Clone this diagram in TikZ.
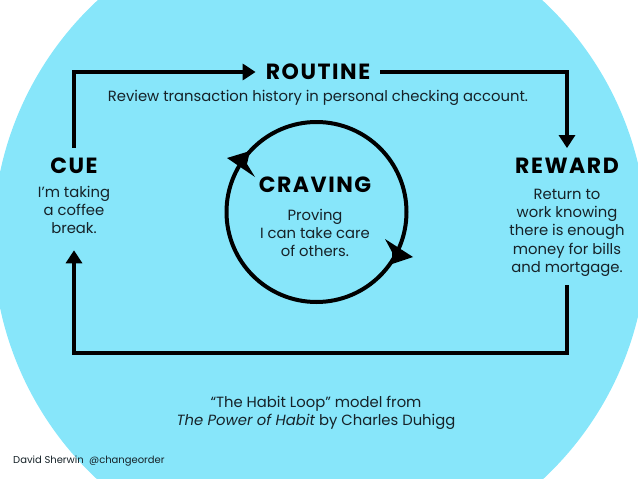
\documentclass[tikz,border=0pt]{standalone}
\usepackage{fontspec}
\setmainfont{Poppins}
\newfontfamily\headfont[LetterSpace=7]{Poppins}
\usepackage{tikz}
\usepackage{xcolor}
\usetikzlibrary{arrows.meta,positioning}
\definecolor{loopcyan}{RGB}{135,230,250}
\definecolor{loopink}{RGB}{22,34,40}

\begin{document}
\begin{tikzpicture}[x=1pt,y=-1pt,>=Stealth,
  head/.style={font=\headfont\fontsize{22}{22}\selectfont\bfseries,text=black,inner sep=10pt},
  body/.style={font=\fontsize{14.8}{18.2}\selectfont,text=loopink,align=center,inner sep=0pt},
  loopline/.style={line width=4pt},
  looparrow/.style={loopline,-{Triangle[length=13pt,width=16pt]}}]
  \useasboundingbox (0,0) rectangle (638,479);
  \clip (0,0) rectangle (638,479);
  \fill[loopcyan] (320,240) circle (327);
  % 四个阶段
  \node[head] (routine) at (318,72) {ROUTINE};
  \node[body,below=0pt of routine] (routinetext) {Review transaction history in personal checking account.};
  \node[head] (cue) at (74,166) {CUE};
  \node[body,below=2pt of cue] (cuetext) {I’m taking\\a coffee\\break.};
  \node[head] (reward) at (567,166) {REWARD};
  \node[body,below=5pt of reward] (rewardtext) {Return to\\work knowing\\there is enough\\money for bills\\and mortgage.};
  \node[head,inner sep=0pt] (craving) at (315,185) {CRAVING};
  \node[body,below=16pt of craving] (cravingtext) {Proving\\I can take care\\of others.};
  % 外圈连线
  \coordinate (bl) at (74,353);
  \draw[looparrow] (cue.north) |- (routine.west);
  \draw[looparrow] (routine.east) -| (reward.north);
  \draw[looparrow,shorten <=9pt,shorten >=16pt] (rewardtext.south) |- (bl) -- (cuetext.south);
  % 内圈
  \coordinate (cc) at (316.5,212);
  \draw[loopline] (cc) circle (90);
  \fill (227,158) -- (250,151) -- (247,164) -- (255,177) -- cycle;
  \fill (413,257) -- (385,239) -- (392,252) -- (392,264) -- cycle;
  % 出处
  \node[body] (source) at (316,413) {“The Habit Loop” model from\\\textit{The Power of Habit} by Charles Duhigg};
  \node[body,font=\fontsize{10}{11}\selectfont,anchor=west] (credit) at (13,461) {David Sherwin~ @changeorder};
\end{tikzpicture}
\end{document}
